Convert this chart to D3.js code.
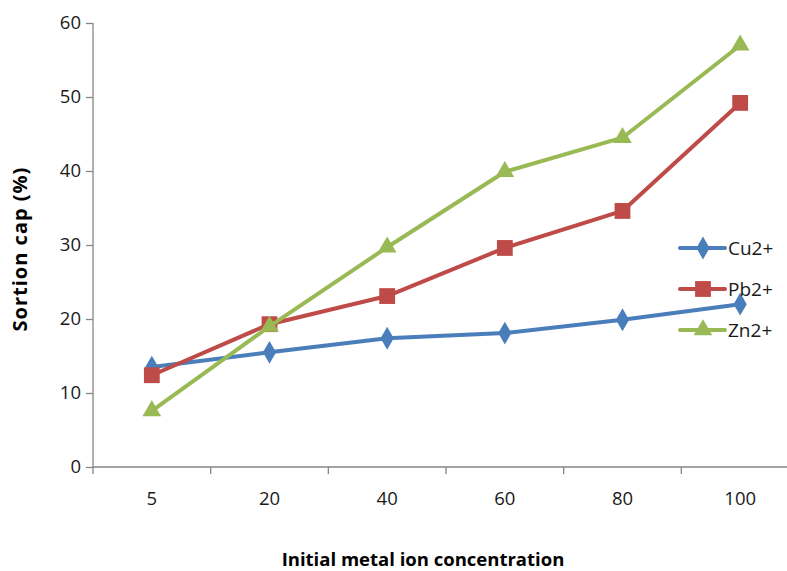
<!DOCTYPE html>
<html><head><meta charset="utf-8">
<script src="https://cdn.jsdelivr.net/npm/d3@7"></script>
<style>body{margin:0;background:#fff}svg{display:block}</style>
</head><body>
<svg id="c" width="787" height="571"></svg>
<script>
const categories = ["5","20","40","60","80","100"];
const cu = [13.5,15.5,17.4,18.1,19.9,22.0];
const pb = [12.4,19.3,23.1,29.6,34.6,49.2];
const zn = [7.6,19.0,29.7,39.9,44.5,57.0];
const seriesNames = ["Cu2+","Pb2+","Zn2+"];
const yTicks = [0,10,20,30,40,50,60];

const svg = d3.select("#c");
const font = "'Open Sans', 'Noto Sans', sans-serif";
const x = d3.scaleBand().domain(categories).range([93,799]);
const y = d3.scaleLinear().domain([0,60]).range([467,23]);
const series = [
  {name:seriesNames[0], vals:cu, color:"#4A7EBB", sym:d3.symbolDiamond, size:150},
  {name:seriesNames[1], vals:pb, color:"#BE4B48", sym:d3.symbolSquare, size:250},
  {name:seriesNames[2], vals:zn, color:"#98B954", sym:d3.symbolTriangle, size:150}
];

// y axis
const ya = svg.append("g").attr("transform","translate(93,0)")
  .call(d3.axisLeft(y).tickValues(yTicks).tickSize(7).tickPadding(5));
ya.selectAll("path,line").attr("stroke","#868686").attr("stroke-width",1.3);
ya.select(".domain").attr("d","M0,23V467");
ya.selectAll("text").attr("font-family",font).attr("font-size",18.5).attr("fill","#1a1a1a");

// x axis
const xa = svg.append("g").attr("transform","translate(0,467)")
  .call(d3.axisBottom(x).tickSize(0).tickPadding(25));
xa.select(".domain").attr("d","M93,0H787").attr("stroke","#868686").attr("stroke-width",1.3);
xa.selectAll("text").attr("font-family",font).attr("font-size",18.5).attr("fill","#1a1a1a");
const bounds = categories.map(c=>x(c)).concat([x(categories[categories.length-1])+x.step()]);
xa.selectAll(".bt").data(bounds).enter().append("line").attr("class","bt")
  .attr("x1",d=>d).attr("x2",d=>d).attr("y1",0).attr("y2",7)
  .attr("stroke","#868686").attr("stroke-width",1.3);

// titles
svg.append("text").attr("x",423).attr("y",566).attr("text-anchor","middle")
  .attr("font-family",font).attr("font-weight","bold").attr("font-size",18.5)
  .text("Initial metal ion concentration");
svg.append("text").attr("transform","translate(27,249) rotate(-90)").attr("text-anchor","middle")
  .attr("font-family",font).attr("font-weight","bold").attr("font-size",20).attr("letter-spacing",1)
  .text("Sortion cap (%)");

const cx = c => x(c)+x.bandwidth()/2;
const line = d3.line().x((d,i)=>cx(categories[i])).y(d=>y(d));

series.forEach(s=>{
  svg.append("path").attr("d",line(s.vals)).attr("fill","none")
    .attr("stroke",s.color).attr("stroke-width",4).attr("stroke-linejoin","round");
  svg.selectAll(null).data(s.vals).enter().append("path")
    .attr("d",d3.symbol().type(s.sym).size(s.size))
    .attr("transform",(d,i)=>`translate(${cx(categories[i])},${y(d)})`)
    .attr("fill",s.color);
});

// legend
const ly = [248,289,330];
series.forEach((s,i)=>{
  const g = svg.append("g").attr("transform",`translate(0,${ly[i]})`);
  g.append("line").attr("x1",680).attr("x2",725).attr("y1",0).attr("y2",0)
    .attr("stroke",s.color).attr("stroke-width",4).attr("stroke-linecap","round");
  g.append("path").attr("d",d3.symbol().type(s.sym).size(s.size)).attr("transform","translate(703,0)").attr("fill",s.color);
  g.append("text").attr("x",728).attr("y",7).attr("font-family",font).attr("font-size",19)
    .attr("fill","#1a1a1a").text(s.name);
});
</script>
</body></html>
